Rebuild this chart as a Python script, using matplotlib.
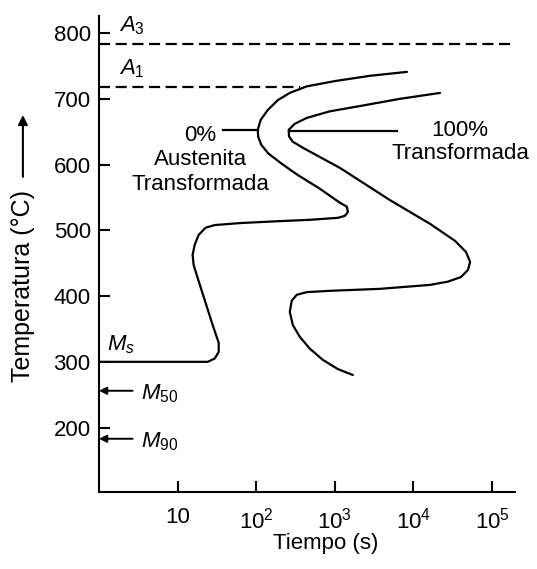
import matplotlib
matplotlib.use("Agg")
import matplotlib.pyplot as plt

plt.rcParams['font.family'] = ['Liberation Sans', 'DejaVu Sans']
plt.rcParams['mathtext.fontset'] = 'custom'
plt.rcParams['mathtext.rm'] = 'Liberation Sans'
plt.rcParams['mathtext.it'] = 'Liberation Sans:italic'

# Curva de inicio de la transformacion (0 %)
start_t = [8260, 2790, 1000, 440, 267, 188, 140, 114, 104.5, 106, 116, 142, 218, 339, 631,
           1158, 1422, 1466, 1341, 1092, 481, 199, 61.6, 29.6, 22.7, 18.5, 16.5,
           15.5, 16.0, 17.5, 22.1, 27.9, 33.3, 33.3, 29.6, 24.1, 1]
start_T = [741, 735, 727, 719, 709, 698, 683, 668, 653, 642, 630, 617, 600, 584, 564,
           542, 536, 528, 522, 519, 516, 514, 511, 508, 504, 493, 478,
           463, 447, 432, 394, 356, 329, 315, 305, 300, 300]

# Curva de fin de la transformacion (100 %)
finish_t = [21770, 6730, 2080, 863, 440, 309, 259, 261, 290, 400, 1158, 5020, 16200,
            33800, 46700, 52500, 49500, 40300, 27500, 16200, 3740, 863, 440, 328,
            283, 267, 292, 358, 481, 703, 1092, 1694]
finish_T = [709, 700, 689, 681, 671, 662, 653, 643, 635, 625, 595, 546, 510,
            484, 467, 452, 440, 429, 422, 417, 411, 408, 406, 402,
            393, 376, 356, 338, 320, 303, 289, 280]

# Temperaturas criticas
A3 = 783
A1 = 718
Ms = 300
M50 = 256
M90 = 183

xticks = [10, 1e2, 1e3, 1e4, 1e5]
xticklabels = ['10', r'$10^2$', r'$10^3$', r'$10^4$', r'$10^5$']
yticks = [200, 300, 400, 500, 600, 700, 800]

fs = 16

fig = plt.figure(figsize=(5.37, 5.69), dpi=100)
ax = fig.add_axes([0.1844, 0.1353, 0.7747, 0.8366])
ax.set_xscale('log')
ax.set_xlim(1, 1.96e5)
ax.set_ylim(102, 826)

lw = 1.6
ax.plot(start_t, start_T, color='k', lw=lw, solid_joinstyle='round', solid_capstyle='round')
ax.plot(finish_t, finish_T, color='k', lw=lw, solid_joinstyle='round', solid_capstyle='round')

# lineas A3 y A1
ax.plot([1, 1.96e5], [A3, A3], color='k', lw=lw, dashes=(5, 2.5))
ax.plot([1, 360], [A1, A1], color='k', lw=lw, dashes=(5, 2.5))

ax.text(1.8, 803, r'$A_{\mathit{3}}$', fontsize=fs, ha='left', va='baseline')
ax.text(1.8, 737, r'$A_{\mathit{1}}$', fontsize=fs, ha='left', va='baseline')
ax.text(1.28, 317, r'$M_{\mathit{s}}$', fontsize=fs, ha='left', va='baseline')

for val, name in [(M50, r'$M_{\mathit{50}}$'), (M90, r'$M_{\mathit{90}}$')]:
    ax.annotate('', xy=(1.0, val), xytext=(2.67, val),
                arrowprops=dict(arrowstyle='-|>', lw=1.4, color='k',
                                shrinkA=0, shrinkB=0, mutation_scale=11))
    ax.text(3.45, val - 4, name, fontsize=fs, ha='left', va='center')

# etiquetas de las curvas
ax.plot([37.7, 104.5], [652, 652], color='k', lw=lw)
ax.plot([259, 6160], [651, 651], color='k', lw=lw)
ax.text(19.5, 607, '0%\nAustenita\nTransformada', fontsize=fs, ha='center',
        va='center', multialignment='center', linespacing=1.22)
ax.text(39100, 634, '100%\nTransformada', fontsize=fs, ha='center',
        va='center', multialignment='center', linespacing=1.15)

ax.spines['top'].set_visible(False)
ax.spines['right'].set_visible(False)
ax.spines['left'].set_linewidth(1.5)
ax.spines['bottom'].set_linewidth(1.5)

ax.set_xticks(xticks)
ax.set_xticklabels(xticklabels)
ax.xaxis.set_minor_locator(matplotlib.ticker.NullLocator())
ax.set_yticks(yticks)
ax.tick_params(axis='both', direction='in', length=8, width=1.5, labelsize=fs)
ax.tick_params(axis='x', pad=11)
ax.tick_params(axis='y', pad=6)

ax.set_xlabel('Tiempo (s)', fontsize=fs)
ax.xaxis.set_label_coords(0.546, -0.086)
ax.xaxis.label.set_va('top')

# eje de temperatura con flecha
ax.text(-0.183, 0.433, 'Temperatura (°C)', transform=ax.transAxes, fontsize=18,
        rotation=90, ha='center', va='center')
ax.annotate('', xy=(-0.183, 0.792), xytext=(-0.183, 0.662), xycoords='axes fraction',
            textcoords='axes fraction',
            arrowprops=dict(arrowstyle='-|>', lw=1.5, color='k', shrinkA=0, shrinkB=0,
                            mutation_scale=14))

fig.savefig('out.png', dpi=100)
